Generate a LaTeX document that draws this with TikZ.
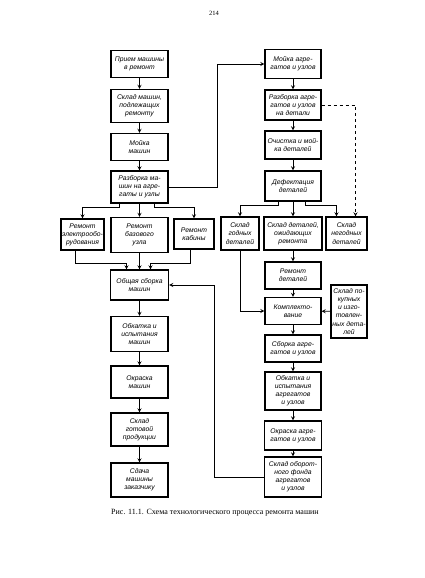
\documentclass[tikz,border=0pt]{standalone}
\usepackage{fontspec}
\setmainfont{Liberation Serif}
\newfontfamily\kastenfont{Liberation Sans}
\tikzset{
  kasten/.style={draw, line width=1.3pt, align=center, inner sep=1pt,
    font=\kastenfont\itshape\fontsize{6.8}{8.1}\selectfont},
  pfeil/.style={->, >=stealth, line width=0.8pt}
}
\begin{document}
\begin{tikzpicture}[x=1pt, y=-1pt]
\useasboundingbox (0,0) rectangle (424,578);

% Seitenzahl
\node[font=\fontsize{6.5}{7}\selectfont] (seite) at (214,13) {214};

% linke Spalte: Maschinen
\node[kasten, minimum width=57pt, minimum height=27pt] (pr) at (139.5,64) {Прием машины\\в ремонт};
\node[kasten, minimum width=57pt, minimum height=33pt] (sk) at (139.5,106) {Склад машин,\\подлежащих\\ремонту};
\node[kasten, minimum width=57pt, minimum height=27pt] (mo) at (139.5,147) {Мойка\\машин};
\node[kasten, minimum width=57pt, minimum height=32pt] (ra) at (139.5,187) {Разборка ма-\\шин на агре-\\гаты и узлы};
\node[kasten, minimum width=41pt, minimum height=31pt] (el) at (82.5,234.5) {Ремонт\\электрообо-\\рудования};
\node[kasten, minimum width=57pt, minimum height=35pt] (bz) at (139.5,235) {Ремонт\\базового\\узла};
\node[kasten, minimum width=40pt, minimum height=30pt] (kb) at (194,234) {Ремонт\\кабины};
\node[kasten, minimum width=58pt, minimum height=30pt] (ob) at (139.5,285) {Общая сборка\\машин};
\node[kasten, minimum width=57pt, minimum height=35pt] (ok) at (139.5,334) {Обкатка и\\испытания\\машин};
\node[kasten, minimum width=57pt, minimum height=32pt] (kr) at (139.5,382) {Окраска\\машин};
\node[kasten, minimum width=57pt, minimum height=33pt] (gp) at (139.5,429.5) {Склад\\готовой\\продукции};
\node[kasten, minimum width=57pt, minimum height=34pt] (sd) at (139.5,480) {Сдача\\машины\\заказчику};

% rechte Spalte: Aggregate und Teile
\node[kasten, minimum width=56pt, minimum height=29pt] (ma) at (293,64) {Мойка агре-\\гатов и узлов};
\node[kasten, minimum width=56pt, minimum height=30pt] (rg) at (293,105) {Разборка агре-\\гатов и узлов\\на детали};
\node[kasten, minimum width=56pt, minimum height=28pt] (oc) at (293,145) {Очистка и мой-\\ка деталей};
\node[kasten, minimum width=56pt, minimum height=30pt] (de) at (293,186) {Дефектация\\деталей};
\node[kasten, minimum width=38pt, minimum height=33pt] (sg) at (240,233.5) {Склад\\годных\\деталей};
\node[kasten, minimum width=58pt, minimum height=33pt] (so) at (293,233.5) {Склад деталей,\\ожидающих\\ремонта};
\node[kasten, minimum width=41pt, minimum height=33pt] (sn) at (346.5,233.5) {Склад\\негодных\\деталей};
\node[kasten, minimum width=56pt, minimum height=27pt] (rd) at (293,275.5) {Ремонт\\деталей};
\node[kasten, minimum width=56pt, minimum height=27pt] (km) at (293,311) {Комплекто-\\вание};
\node[kasten, minimum width=36pt, minimum height=53pt] (sp) at (349,311.5) {Склад по-\\купных\\и изго-\\товлен-\\ных дета-\\лей};
\node[kasten, minimum width=56pt, minimum height=27pt] (sa) at (293,348.5) {Сборка агре-\\гатов и узлов};
\node[kasten, minimum width=56pt, minimum height=38pt] (oa) at (293,391) {Обкатка и\\испытания\\агрегатов\\и узлов};
\node[kasten, minimum width=57pt, minimum height=29pt] (ka) at (293,435.5) {Окраска агре-\\гатов и узлов};
\node[kasten, minimum width=57pt, minimum height=40pt] (of) at (293,477) {Склад оборот-\\ного фонда\\агрегатов\\и узлов};

% Bildunterschrift
\node[font=\fontsize{8}{9}\selectfont] (bu) at (215,513) {Рис. 11.1. Схема технологического процесса ремонта машин};

% Pfeile links
\draw[pfeil] (pr) -- (sk);
\draw[pfeil] (sk) -- (mo);
\draw[pfeil] (mo) -- (ra);
\draw[pfeil] ([xshift=-20pt]ra.south) -- ++(0,4) -| (el.north);
\draw[pfeil] (ra.south) -- (bz.north);
\draw[pfeil] ([xshift=15pt]ra.south) -- ++(0,4) -| (kb.north);
\draw[pfeil] ([xshift=-7pt]el.south) -- ++(0,13) -| ([xshift=-13pt]ob.north);
\draw[pfeil] (bz) -- (ob);
\draw[pfeil] ([xshift=-4pt]kb.south) -- ++(0,14) -| ([xshift=11pt]ob.north);
\draw[pfeil] (ob) -- (ok);
\draw[pfeil] (ok) -- (kr);
\draw[pfeil] (kr) -- (gp);
\draw[pfeil] (gp) -- (sd);

% Pfeile rechts
\draw[pfeil] (ra.east) -- ++(49,0) |- (ma.west);
\draw[pfeil] (ma) -- (rg);
\draw[pfeil] (rg) -- (oc);
\draw[pfeil] (oc) -- (de);
\draw[pfeil, dashed] (rg.east) -| ([xshift=9pt]sn.north);
\draw[pfeil] ([xshift=-15pt]de.south) -- ++(0,4) -| (sg.north);
\draw[pfeil] (de) -- (so);
\draw[pfeil] ([xshift=12pt]de.south) -- ++(0,4) -| ([xshift=-10pt]sn.north);
\draw[pfeil] (so) -- (rd);
\draw[pfeil] (rd) -- (km);
\draw[pfeil] (sg.south) |- (km.west);
\draw[pfeil] (sp) -- (km);
\draw[pfeil] (km) -- (sa);
\draw[pfeil] (sa) -- (oa);
\draw[pfeil] (oa) -- (ka);
\draw[pfeil] (ka) -- (of);
\draw[pfeil] (of.west) -- ++(-49,0) |- (ob.east);

\end{tikzpicture}
\end{document}
